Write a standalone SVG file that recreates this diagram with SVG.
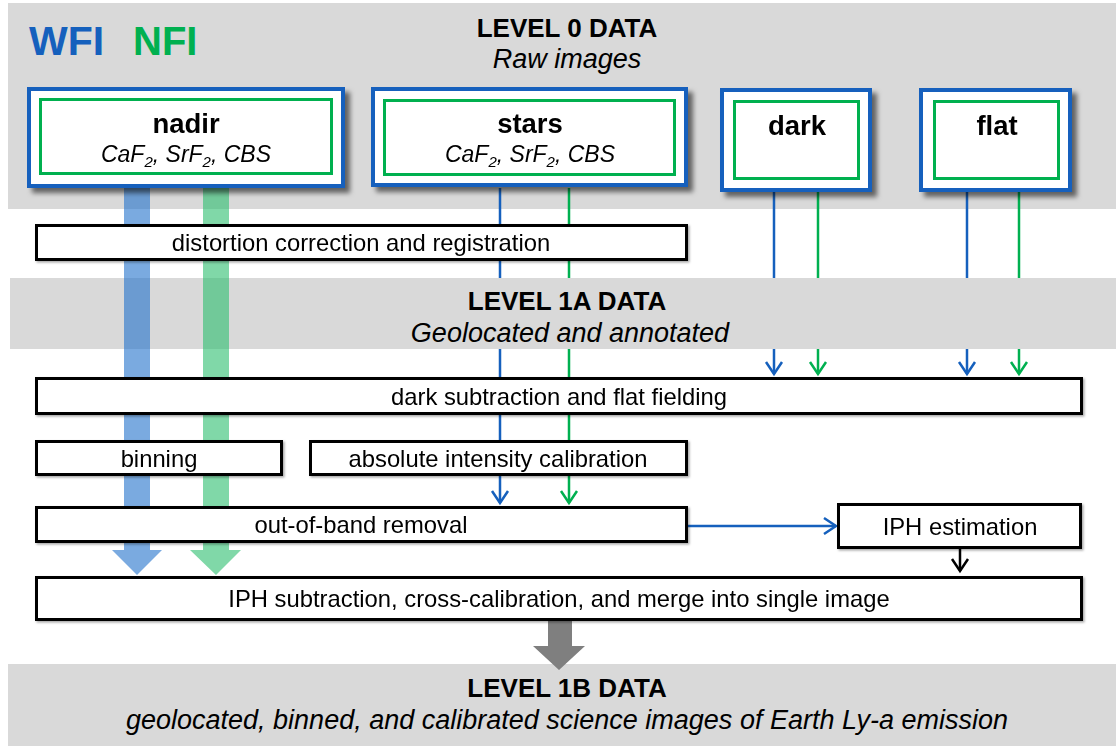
<svg xmlns="http://www.w3.org/2000/svg" width="1116" height="746" viewBox="0 0 1116 746">
<defs>
<style>
.band{fill:#d9d9d9}
.t{font-family:"Liberation Sans",Arial,sans-serif;fill:#000}
.h{font-size:26px;font-weight:bold;text-anchor:middle}
.hi{font-size:27px;font-style:italic;text-anchor:middle}
.bt{font-size:27.5px;font-weight:bold;text-anchor:middle}
.sub{font-size:23px;font-style:italic;text-anchor:middle}
.p{font-size:23.8px;text-anchor:middle}
.outer{fill:#fff;stroke:#1560bd;stroke-width:4}
.inner{fill:#fff;stroke:#00b050;stroke-width:3}
.box{fill:#fff;stroke:#000;stroke-width:3}
.lb{stroke:#1560bd;stroke-width:2.5;fill:none}
.lg{stroke:#00b050;stroke-width:2.5;fill:none}
.lk{stroke:#000;stroke-width:2.5;fill:none}
</style>
<filter id="sh" x="-10%" y="-20%" width="130%" height="150%">
<feDropShadow dx="5" dy="5" stdDeviation="2.5" flood-color="#000" flood-opacity="0.55"/>
</filter>
<filter id="sh2" x="-5%" y="-20%" width="110%" height="150%">
<feDropShadow dx="1.5" dy="1.5" stdDeviation="1" flood-color="#000" flood-opacity="0.35"/>
</filter>
<marker id="mb" markerUnits="userSpaceOnUse" markerWidth="30" markerHeight="30" viewBox="-15 -15 30 30" refX="0" refY="0" orient="auto" overflow="visible">
<path d="M-12,-8 L0,0 L-12,8" fill="none" stroke="#1560bd" stroke-width="2.5"/>
</marker>
<marker id="mg" markerUnits="userSpaceOnUse" markerWidth="30" markerHeight="30" viewBox="-15 -15 30 30" refX="0" refY="0" orient="auto" overflow="visible">
<path d="M-12,-8 L0,0 L-12,8" fill="none" stroke="#00b050" stroke-width="2.5"/>
</marker>
<marker id="mk" markerUnits="userSpaceOnUse" markerWidth="30" markerHeight="30" viewBox="-15 -15 30 30" refX="0" refY="0" orient="auto" overflow="visible">
<path d="M-12,-8 L0,0 L-12,8" fill="none" stroke="#000" stroke-width="2.5"/>
</marker>
</defs>

<g id="level0">
<rect class="band" x="8" y="3" width="1108" height="206"/>
<text class="t h" x="567" y="37">LEVEL 0 DATA</text>
<text class="t hi" x="567" y="68">Raw images</text>
</g>
<g id="level1b">
<rect class="band" x="8" y="664" width="1108" height="82"/>
<text class="t h" x="567" y="697">LEVEL 1B DATA</text>
<text class="t hi" x="567" y="729">geolocated, binned, and calibrated science images of Earth Ly-a emission</text>
</g>

<g id="legend">
<text x="29" y="55" font-family="'Liberation Sans',Arial,sans-serif" font-size="41" font-weight="bold" fill="#1560bd">WFI</text>
<text x="133" y="55" font-family="'Liberation Sans',Arial,sans-serif" font-size="40" font-weight="bold" fill="#00b050">NFI</text>
</g>

<g id="connectors">
<line class="lb" x1="500" y1="188" x2="500" y2="503" marker-end="url(#mb)"/>
<line class="lg" x1="569" y1="188" x2="569" y2="503" marker-end="url(#mg)"/>
<line class="lb" x1="774" y1="192" x2="774" y2="374" marker-end="url(#mb)"/>
<line class="lg" x1="818" y1="192" x2="818" y2="374" marker-end="url(#mg)"/>
<line class="lb" x1="967" y1="192" x2="967" y2="374" marker-end="url(#mb)"/>
<line class="lg" x1="1019" y1="192" x2="1019" y2="374" marker-end="url(#mg)"/>
<line class="lb" x1="688" y1="526" x2="836" y2="526" marker-end="url(#mb)"/>
<line class="lk" x1="960" y1="549" x2="960" y2="571" marker-end="url(#mk)"/>
<path d="M548,621 H572 V646 H585 L559,670 L533,646 H548 Z" fill="#7f7f7f"/>
</g>

<g id="level1a">
<rect class="band" x="10" y="278" width="1106" height="71"/>
<text class="t h" x="567" y="310">LEVEL 1A DATA</text>
<text class="t hi" x="570" y="342">Geolocated and annotated</text>
</g>

<g id="wide-arrows">
<path d="M124,188 H150 V550 H162 L137,575 L112,550 H124 Z" fill="#2171cb" fill-opacity="0.6"/>
<path d="M203,188 H229 V550 H241 L216,575 L190,550 H203 Z" fill="#2bbe6e" fill-opacity="0.6"/>
</g>

<g id="nadir" filter="url(#sh)">
<rect class="outer" x="29" y="89" width="314" height="97"/>
<rect class="inner" x="40.5" y="99.5" width="291" height="74"/>
<text class="t bt" x="186" y="133">nadir</text>
<text class="t sub" x="186" y="162">CaF<tspan font-size="15" dy="5">2</tspan><tspan dy="-5">, SrF</tspan><tspan font-size="15" dy="5">2</tspan><tspan dy="-5">, CBS</tspan></text>
</g>
<g id="stars" filter="url(#sh)">
<rect class="outer" x="373" y="89" width="313" height="96"/>
<rect class="inner" x="384.5" y="100.5" width="290" height="74"/>
<text class="t bt" x="530" y="133">stars</text>
<text class="t sub" x="530" y="162">CaF<tspan font-size="15" dy="5">2</tspan><tspan dy="-5">, SrF</tspan><tspan font-size="15" dy="5">2</tspan><tspan dy="-5">, CBS</tspan></text>
</g>
<g id="dark" filter="url(#sh)">
<rect class="outer" x="722" y="90" width="148" height="100"/>
<rect class="inner" x="734.5" y="101.5" width="124" height="77"/>
<text class="t bt" x="797" y="135">dark</text>
</g>
<g id="flat" filter="url(#sh)">
<rect class="outer" x="921" y="90" width="149" height="100"/>
<rect class="inner" x="934.5" y="101.5" width="124" height="77"/>
<text class="t bt" x="997" y="135">flat</text>
</g>

<g id="distortion" filter="url(#sh2)">
<rect class="box" x="36.5" y="225.5" width="650" height="34"/>
<text class="t p" x="361" y="251">distortion correction and registration</text>
</g>
<g id="darksub" filter="url(#sh2)">
<rect class="box" x="36.5" y="378.5" width="1045" height="35"/>
<text class="t p" x="559" y="405">dark subtraction and flat fielding</text>
</g>
<g id="binning" filter="url(#sh2)">
<rect class="box" x="36.5" y="441.5" width="245" height="33"/>
<text class="t p" x="159" y="467">binning</text>
</g>
<g id="abscal" filter="url(#sh2)">
<rect class="box" x="310.5" y="441.5" width="376" height="33"/>
<text class="t p" x="498" y="467">absolute intensity calibration</text>
</g>
<g id="oob" filter="url(#sh2)">
<rect class="box" x="36.5" y="507.5" width="650" height="34"/>
<text class="t p" x="361" y="533">out-of-band removal</text>
</g>
<g id="iphest" filter="url(#sh2)">
<rect class="box" x="838.5" y="504.5" width="242" height="43"/>
<text class="t p" x="960" y="535">IPH estimation</text>
</g>
<g id="iphsub" filter="url(#sh2)">
<rect class="box" x="36.5" y="577.5" width="1045" height="42"/>
<text class="t p" x="559" y="607">IPH subtraction, cross-calibration, and merge into single image</text>
</g>
</svg>
